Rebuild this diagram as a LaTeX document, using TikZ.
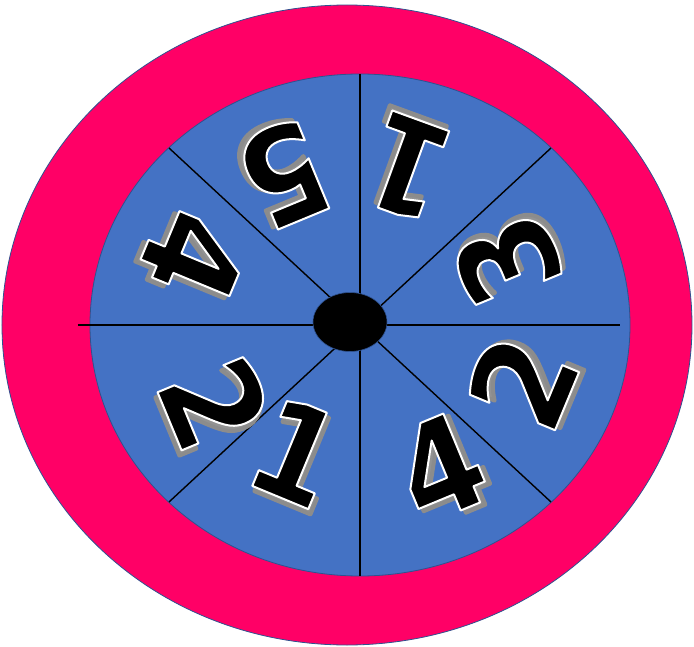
\documentclass[tikz,border=0pt]{standalone}
\usepackage{fontspec}
\newfontfamily\digitfont{DejaVu Sans Condensed Bold}
\definecolor{wheelpink}{HTML}{FF0066}
\definecolor{wheelblue}{HTML}{4472C4}
\definecolor{rimblue}{HTML}{2F528F}
% fill and stroke the glyphs: #1 = stroke colour (r g b), #2 = width, #3 = text
\newcommand{\rimmed}[3]{\special{pdf:literal direct 2 Tr #1 RG #2 w 1 j}#3\special{pdf:literal direct 0 Tr}}
\tikzset{
  digit/.style={inner sep=0pt, transform shape, font=\digitfont\fontsize{132}{132}\selectfont},
  digitshadow/.style={digit, text=gray!85},
  spoke/.style={line width=1.4pt},
}
% name, x, y, angle, text
\newcommand{\wheeldigit}[5]{%
  \begin{scope}[shift={(#2,#3)}, rotate=#4]
    \node[digitshadow] (#1s) at (4,-4) {\rimmed{0.55 0.55 0.55}{4}{#5}};
    \node[digit] (#1) at (0,0) {\rimmed{1 1 1}{2}{#5}};
  \end{scope}}
\begin{document}
\begin{tikzpicture}[x=1pt, y=1pt]
  \useasboundingbox (-360,-321) rectangle (334,325);
  % rim and face
  \filldraw[fill=wheelpink, draw=rimblue, line width=0.8pt] (-13,0) ellipse [x radius=345, y radius=320];
  \filldraw[fill=wheelblue, draw=rimblue, line width=0.8pt] (0,0) ellipse [x radius=270, y radius=251];
  % spokes
  \coordinate (top) at (0,251);
  \coordinate (bottom) at (0,-251);
  \coordinate (left) at (-282,0);
  \coordinate (right) at (260,0);
  \coordinate (nw) at (-191,177);
  \coordinate (se) at (191,-177);
  \coordinate (ne) at (191,177);
  \coordinate (sw) at (-191,-177);
  \draw[spoke] (top) -- (bottom);
  \draw[spoke] (left) -- (right);
  \draw[spoke] (nw) -- (se);
  \draw[spoke] (ne) -- (sw);
  % hub
  \filldraw[fill=black, draw=rimblue, line width=0.6pt] (-10,3) ellipse [x radius=37, y radius=29.5];
  % numbers
  \wheeldigit{one}{47}{158}{160}{1}
  \wheeldigit{three}{147}{65}{112.5}{3}
  \wheeldigit{twoa}{162}{-57}{67.5}{2}
  \wheeldigit{foura}{80}{-142}{22.5}{4}
  \wheeldigit{oneb}{-64}{-127}{-22.5}{1}
  \wheeldigit{twob}{-145}{-78}{-67.5}{2}
  \wheeldigit{fourb}{-166}{69}{-112.5}{4}
  \wheeldigit{five}{-76}{151}{202.5}{5}
\end{tikzpicture}
\end{document}
